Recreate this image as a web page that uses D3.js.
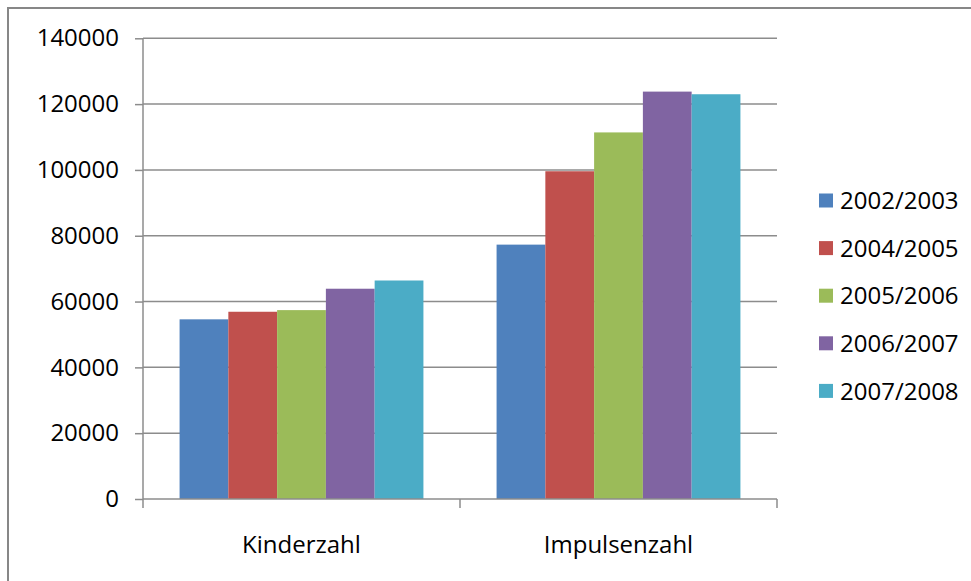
<!DOCTYPE html>
<html>
<head>
<meta charset="utf-8">
<script src="https://cdn.jsdelivr.net/npm/d3@7"></script>
<style>
  html, body { margin: 0; padding: 0; background: #fff; }
  svg { display: block; }
  text { font-family: "Open Sans", "Noto Sans", sans-serif; fill: #000; }
</style>
</head>
<body>
<svg id="chart" width="971" height="581"></svg>
<script>
// Categories and seasons
const categories = ["Kinderzahl", "Impulsenzahl"];
const seasons = ["2002/2003", "2004/2005", "2005/2006", "2006/2007", "2007/2008"];
// Values per season, in category order
const values2002 = [54600, 77300];
const values2004 = [56900, 99600];
const values2005 = [57400, 111400];
const values2006 = [63900, 123800];
const values2007 = [66400, 123000];
const yTicks = [0, 20000, 40000, 60000, 80000, 100000, 120000, 140000];
const colors = ["#4F81BD", "#C0504D", "#9BBB59", "#8064A2", "#4BACC6"];

const seriesValues = [values2002, values2004, values2005, values2006, values2007];

const svg = d3.select("#chart");
const plot = { left: 143, right: 777, top: 38.3, bottom: 499 };

// Outer frame (top and left edges)
svg.append("path")
  .attr("d", "M8,581 V8 H971")
  .attr("fill", "none")
  .attr("stroke", "#878787")
  .attr("stroke-width", 2);

const y = d3.scaleLinear().domain([0, 140000]).range([plot.bottom, plot.top]);
const x0 = d3.scaleBand().domain(categories).range([plot.left, plot.right]).paddingInner(0).paddingOuter(0);
// gap between groups is 1.5 bar widths
const groupInnerWidth = x0.bandwidth() * 5 / 6.5;
const x1 = d3.scaleBand().domain(seasons).range([0, groupInnerWidth]).padding(0);

// Gridlines
svg.append("g")
  .selectAll("line")
  .data(yTicks.filter(d => d > 0))
  .join("line")
  .attr("x1", plot.left).attr("x2", plot.right)
  .attr("y1", d => y(d)).attr("y2", d => y(d))
  .attr("stroke", "#8C8C8C").attr("stroke-width", 1.5);

// Bars
const groups = svg.append("g")
  .selectAll("g")
  .data(categories)
  .join("g")
  .attr("transform", d => `translate(${x0(d) + (x0.bandwidth() - groupInnerWidth) / 2},0)`);

groups.selectAll("rect")
  .data((c, ci) => seasons.map((s, si) => ({ s, si, v: seriesValues[si][ci] })))
  .join("rect")
  .attr("x", d => x1(d.s))
  .attr("width", x1.bandwidth())
  .attr("y", d => y(d.v))
  .attr("height", d => y(0) - y(d.v))
  .attr("fill", d => colors[d.si]);

// Y axis
const yAxis = d3.axisLeft(y).tickValues(yTicks).tickSize(8).tickPadding(16).tickFormat(d3.format("d"));
const yg = svg.append("g").attr("transform", `translate(${plot.left},0)`).call(yAxis);
yg.select(".domain").attr("stroke", "#8C8C8C").attr("stroke-width", 1.5).attr("d", `M-0,${plot.top}V${plot.bottom}`);
yg.selectAll(".tick line").attr("stroke", "#8C8C8C").attr("stroke-width", 1.5);
yg.selectAll(".tick text").style("font-size", "24px").style("font-family", "'Open Sans', sans-serif").attr("fill", "#000");

// X axis: ticks at category boundaries
const xg = svg.append("g").attr("transform", `translate(0,${plot.bottom})`);
xg.append("line")
  .attr("x1", plot.left).attr("x2", plot.right)
  .attr("stroke", "#8C8C8C").attr("stroke-width", 1.5);
const boundaries = categories.map(c => x0(c)).concat([x0(categories[categories.length - 1]) + x0.bandwidth()]);
xg.selectAll("line.b")
  .data(boundaries)
  .join("line")
  .attr("class", "b")
  .attr("x1", d => d).attr("x2", d => d)
  .attr("y1", 0).attr("y2", 9)
  .attr("stroke", "#8C8C8C").attr("stroke-width", 1.5);
xg.selectAll("text")
  .data(categories)
  .join("text")
  .attr("x", d => x0(d) + x0.bandwidth() / 2)
  .attr("y", 54)
  .attr("text-anchor", "middle")
  .style("font-size", "24px")
  .text(d => d);

// Legend
const legend = svg.append("g").attr("transform", "translate(819,200.5)");
const items = legend.selectAll("g")
  .data(seasons)
  .join("g")
  .attr("transform", (d, i) => `translate(0,${i * 47.6})`);
items.append("rect")
  .attr("x", 0).attr("y", -7).attr("width", 14).attr("height", 14)
  .attr("fill", (d, i) => colors[i]);
items.append("text")
  .attr("x", 21).attr("y", 0)
  .attr("dy", "0.36em")
  .style("font-size", "24px")
  .text(d => d);
</script>
</body>
</html>
